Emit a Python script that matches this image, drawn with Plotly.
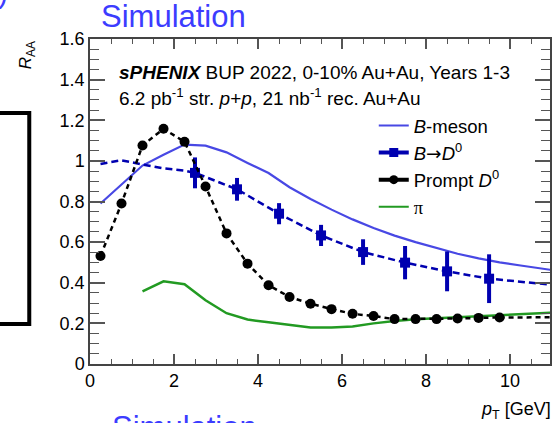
import plotly.graph_objects as go

# ---------------- data ----------------
pt_half = [0.25, 0.75, 1.25, 1.75, 2.25, 2.75, 3.25, 3.75, 4.25, 4.75,
           5.25, 5.75, 6.25, 6.75, 7.25, 7.75, 8.25, 8.75, 9.25, 9.75]
prompt_d0 = [0.532, 0.79, 1.076, 1.158, 1.094, 0.874, 0.643, 0.494, 0.388, 0.33,
             0.297, 0.27, 0.247, 0.236, 0.221, 0.221, 0.221, 0.224, 0.227, 0.229]
prompt_tail_x = [9.75, 11.0]
prompt_tail_y = [0.229, 0.23]

bmeson_x = [0.25, 0.75, 1.25, 1.75, 2.25, 2.75, 3.25, 3.75, 4.25, 4.75, 5.25,
            5.75, 6.25, 6.75, 7.25, 7.75, 8.25, 8.75, 9.25, 9.75, 10.25, 10.75, 11.25]
bmeson_y = [0.79, 0.885, 0.977, 1.03, 1.08, 1.075, 1.042, 0.99, 0.94, 0.87, 0.812,
            0.76, 0.712, 0.67, 0.632, 0.60, 0.57, 0.543, 0.52, 0.50, 0.485, 0.468, 0.455]

btod_x = [2.5, 3.5, 4.5, 5.5, 6.5, 7.5, 8.5, 9.5]
btod_y = [0.941, 0.86, 0.74, 0.633, 0.551, 0.499, 0.456, 0.42]
btod_err = [0.076, 0.056, 0.052, 0.052, 0.063, 0.082, 0.098, 0.12]
btod_curve_x = [0.25, 0.75, 1.25, 1.75, 2.25, 2.5, 3.5, 4.5, 5.5, 6.5, 7.5, 8.5, 9.5, 11.0]
btod_curve_y = [0.985, 1.003, 0.982, 0.963, 0.952, 0.941, 0.86, 0.74, 0.633, 0.551,
                0.499, 0.456, 0.42, 0.39]

pion_x = [1.25, 1.75, 2.25, 2.75, 3.25, 3.75, 4.25, 4.75, 5.25, 5.75, 6.25, 6.75,
          7.25, 7.75, 8.25, 8.75, 9.25, 9.75, 10.25, 10.75, 11.25]
pion_y = [0.358, 0.407, 0.393, 0.314, 0.25, 0.219, 0.205, 0.191, 0.18, 0.18, 0.185,
          0.20, 0.212, 0.22, 0.225, 0.229, 0.232, 0.237, 0.243, 0.249, 0.255]

x_tickvals = [0, 2, 4, 6, 8, 10]
x_ticktext = ["0", "2", "4", "6", "8", "10"]
y_tickvals = [0, 0.2, 0.4, 0.6, 0.8, 1.0, 1.2, 1.4, 1.6]
y_ticktext = ["0", "0.2", "0.4", "0.6", "0.8", "1", "1.2", "1.4", "1.6"]

legend_names = ["<i>B</i>-meson",
                "<i>B</i><span style='font-family:DejaVu Sans'>\u2192</span><i>D</i><sup>0</sup>",
                "Prompt <i>D</i><sup>0</sup>",
                "<span style='font-family:Liberation Serif'>\u03c0</span>"]

# ---------------- layout geometry ----------------
W, H = 552, 423
L, R, T, B = 90, 0, 39, 59
PW, PH = W - L - R, H - T - B


def px(xp):
    return (xp - L) / PW


def py(yp):
    return (H - B - yp) / PH


FONT = "Liberation Sans, Arial, sans-serif"
C_BMES = "#4848e4"
C_BTOD = "#0000b0"
C_PION = "#229a22"
C_SIM = "#3c3cff"

fig = go.Figure()

fig.add_trace(go.Scatter(x=bmeson_x, y=bmeson_y, mode="lines",
                         line=dict(color=C_BMES, width=2.2), showlegend=False))
fig.add_trace(go.Scatter(x=pion_x, y=pion_y, mode="lines",
                         line=dict(color=C_PION, width=2.5), showlegend=False))
fig.add_trace(go.Scatter(x=btod_curve_x, y=btod_curve_y, mode="lines",
                         line=dict(color=C_BTOD, width=2.5, dash="7px,4px"),
                         showlegend=False))
fig.add_trace(go.Scatter(x=btod_x, y=btod_y, mode="markers",
                         marker=dict(symbol="square", size=10, color=C_BTOD),
                         error_y=dict(type="data", array=btod_err, color=C_BTOD,
                                      thickness=4, width=0),
                         showlegend=False))
fig.add_trace(go.Scatter(x=prompt_tail_x, y=prompt_tail_y, mode="lines",
                         line=dict(color="black", width=2.5, dash="5px,4px"),
                         showlegend=False))
fig.add_trace(go.Scatter(x=pt_half, y=prompt_d0, mode="lines+markers",
                         line=dict(color="black", width=2.5, dash="5px,4px"),
                         marker=dict(symbol="circle", size=10, color="black"),
                         showlegend=False))

# legend entries
fig.add_trace(go.Scatter(x=[None], y=[None], mode="lines", name=legend_names[0],
                         line=dict(color=C_BMES, width=2)))
fig.add_trace(go.Scatter(x=[None], y=[None], mode="lines+markers", name=legend_names[1],
                         line=dict(color=C_BTOD, width=4),
                         marker=dict(symbol="square", size=9, color=C_BTOD)))
fig.add_trace(go.Scatter(x=[None], y=[None], mode="lines+markers", name=legend_names[2],
                         line=dict(color="black", width=4),
                         marker=dict(symbol="circle", size=9, color="black")))
fig.add_trace(go.Scatter(x=[None], y=[None], mode="lines", name=legend_names[3],
                         line=dict(color=C_PION, width=2)))

axis_common = dict(showgrid=False, zeroline=False, showline=True, linecolor="#444",
                   linewidth=1.5, mirror="allticks", ticks="inside", tickcolor="#555",
                   tickfont=dict(family=FONT, size=18, color="black"))

fig.update_xaxes(range=[0, 10.95], tickvals=x_tickvals, ticktext=x_ticktext,
                 ticklen=10, tickwidth=1.5,
                 minor=dict(dtick=0.5, tick0=0, ticklen=5, ticks="inside",
                            tickcolor="#555", tickwidth=1.2),
                 **axis_common)
fig.update_yaxes(range=[0, 1.6], tickvals=y_tickvals, ticktext=y_ticktext,
                 ticklen=15, tickwidth=1.5,
                 minor=dict(dtick=0.05, tick0=0, ticklen=9, ticks="inside",
                            tickcolor="#555", tickwidth=1.2),
                 **axis_common)

ann = []
ann.append(dict(text="Simulation", x=px(174), y=py(17), xref="paper", yref="paper",
                showarrow=False, xanchor="center", yanchor="middle",
                font=dict(family=FONT, size=31, color=C_SIM)))
ann.append(dict(text="Simulation", x=px(185), y=py(408), xref="paper", yref="paper",
                showarrow=False, xanchor="center", yanchor="top",
                font=dict(family=FONT, size=31, color=C_SIM)))
ann.append(dict(text=")", x=px(10), y=py(-7), xref="paper", yref="paper",
                showarrow=False, xanchor="right", yanchor="middle",
                font=dict(family=FONT, size=30, color=C_SIM)))
ann.append(dict(text="<i>R</i><sub>AA</sub>", x=px(27), y=py(55), xref="paper", yref="paper",
                showarrow=False, xanchor="center", yanchor="middle", textangle=-90,
                font=dict(family=FONT, size=17, color="black")))
ann.append(dict(text="<i>p</i><sub>T</sub> [GeV]", x=px(481), y=py(410), xref="paper",
                yref="paper", showarrow=False, xanchor="left", yanchor="middle",
                font=dict(family=FONT, size=18, color="black")))
ann.append(dict(text="<b><i>sPHENIX</i></b> BUP 2022, 0-10% Au+Au, Years 1-3",
                x=px(117), y=py(72), xref="paper", yref="paper", showarrow=False,
                xanchor="left", yanchor="middle",
                font=dict(family=FONT, size=19, color="black")))
ann.append(dict(text="6.2 pb<sup>-1</sup> str. <i>p</i>+<i>p</i>, 21 nb<sup>-1</sup> rec. Au+Au",
                x=px(117), y=py(97), xref="paper", yref="paper", showarrow=False,
                xanchor="left", yanchor="middle",
                font=dict(family=FONT, size=19, color="black")))

shapes = [dict(type="rect", xref="paper", yref="paper", x0=px(-20), x1=px(29),
               y0=py(324), y1=py(113), line=dict(color="black", width=4))]

fig.update_layout(
    width=W, height=H, margin=dict(l=L, r=R, t=T, b=B),
    paper_bgcolor="white", plot_bgcolor="white",
    annotations=ann, shapes=shapes,
    legend=dict(x=px(375), y=py(107), xanchor="left", yanchor="top",
                bgcolor="rgba(0,0,0,0)", borderwidth=0,
                font=dict(family=FONT, size=18.5, color="black"),
                tracegroupgap=0, itemwidth=30),
)

fig.write_html("out.html", config={"displayModeBar": False},
               post_script="document.body.style.margin='0';"
                           "document.body.style.overflow='hidden';")
